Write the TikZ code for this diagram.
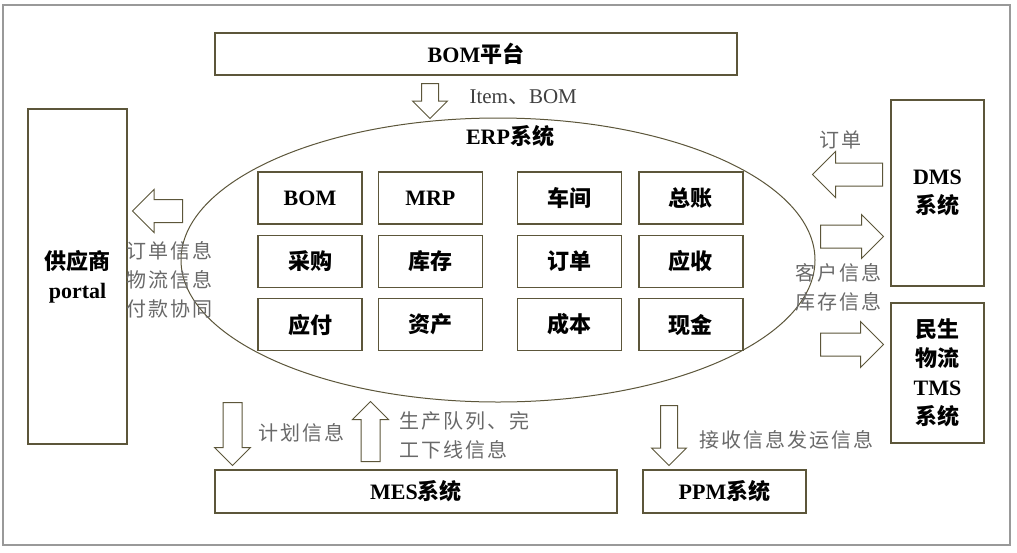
\documentclass[tikz,border=0pt]{standalone}
\usepackage{fontspec}
\setmainfont{Liberation Serif}
\newfontfamily\cjk{Noto Sans CJK SC}
\newfontfamily\lblcjk[LetterSpace=10]{Noto Sans CJK SC}
\usetikzlibrary{positioning, shapes.geometric, shapes.arrows}
\definecolor{edge}{RGB}{92,86,58}
\definecolor{lblgray}{RGB}{105,105,105}
\newcommand{\zh}[1]{{\cjk #1}}
\tikzstyle{sys}=[draw=edge, line width=1.3pt, align=center, inner sep=0pt,
                 font=\fontsize{22}{29}\selectfont\bfseries]
\tikzstyle{mod}=[sys, minimum width=104pt, minimum height=52pt]
\tikzstyle{info}=[text=lblgray, align=left, inner sep=0pt,
                  font=\fontsize{20}{29}\selectfont\lblcjk]
\tikzset{blk/.style n args={3}{single arrow, draw=edge, fill=white, line width=1pt,
                 inner sep=0pt, inner ysep=#1, single arrow head extend=#2,
                 minimum height=#3, minimum width=0pt, anchor=tail}}

\begin{document}
\begin{tikzpicture}[x=1pt, y=-1pt]
    \useasboundingbox (0,0) rectangle (1017,552);
    \draw[gray!80, line width=1.3pt] (3,5) rectangle (1010,545);
    % systems around the ERP
    \node[sys, minimum width=522pt, minimum height=42pt] (bomp) at (476,54) {BOM\zh{平台}};
    \node[sys, minimum width=99pt, minimum height=335pt] (sup) at (77.5,276.5) {\zh{供应商}\\portal};
    \node[sys, minimum width=93pt, minimum height=186pt] (dms) at (937.5,193) {DMS\\\zh{系统}};
    \node[sys, minimum width=93pt, minimum height=140pt] (tms) at (937.5,373) {\zh{民生}\\\zh{物流}\\TMS\\\zh{系统}};
    \node[sys, minimum width=402pt, minimum height=43pt] (mes) at (416,491.5) {MES\zh{系统}};
    \node[sys, minimum width=163pt, minimum height=43pt] (ppm) at (724.5,491.5) {PPM\zh{系统}};
    % ERP with its modules
    \node[draw=edge, line width=1pt, ellipse, minimum width=634pt, minimum height=284pt] (erp) at (498,260) {};
    \node[font=\fontsize{22}{26}\selectfont\bfseries] (erpt) at (510,136) {ERP\zh{系统}};
    \node[mod] (bom) at (310,198) {BOM};
    \node[mod, right=15pt of bom] (mrp) {MRP};
    \node[mod, right=34pt of mrp] (shop) {\zh{车间}};
    \node[mod, right=16pt of shop] (gl) {\zh{总账}};
    \node[mod, below=10pt of bom] (pur) {\zh{采购}};
    \node[mod, below=10pt of mrp] (inv) {\zh{库存}};
    \node[mod, below=10pt of shop] (ord) {\zh{订单}};
    \node[mod, below=10pt of gl] (ar) {\zh{应收}};
    \node[mod, below=10pt of pur] (ap) {\zh{应付}};
    \node[mod, below=10pt of inv] (fa) {\zh{资产}};
    \node[mod, below=10pt of ord] (cost) {\zh{成本}};
    \node[mod, below=10pt of ar] (cash) {\zh{现金}};
    % block arrows (placed by their tails)
    \node[blk={8pt}{9pt}{35pt}, rotate=-90] (a1) at (430,83) {};
    \node[blk={11pt}{10pt}{50pt}, rotate=180] (a2) at (183,211) {};
    \node[blk={11pt}{11.5pt}{70pt}, rotate=180] (a3) at (883,174.5) {};
    \node[blk={11pt}{10.5pt}{63pt}] (a4) at (820,236.5) {};
    \node[blk={11pt}{11.5pt}{63pt}] (a5) at (820,344.5) {};
    \node[blk={9pt}{8.5pt}{63pt}, rotate=-90] (a6) at (232.5,402) {};
    \node[blk={9pt}{8.5pt}{60pt}, rotate=90] (a7) at (370.5,462) {};
    \node[blk={8pt}{9pt}{60pt}, rotate=-90] (a8) at (669,405) {};
    % flow labels
    \node[text=black!75, anchor=west, font=\fontsize{21}{26}\selectfont] (l1) at (466,97) {Item\zh{、}BOM};
    \node[info, anchor=north west] (l2) at (126,241) {订单信息\\物流信息\\付款协同};
    \node[info] (l3) at (840,140) {订单};
    \node[info, align=center] (l4) at (838,287.5) {客户信息\\库存信息};
    \node[info] (l5) at (301,433) {计划信息};
    \node[info, anchor=north west] (l6) at (399,411) {生产队列、完\\工下线信息};
    \node[info] (l7) at (786,440) {接收信息发运信息};
\end{tikzpicture}
\end{document}
